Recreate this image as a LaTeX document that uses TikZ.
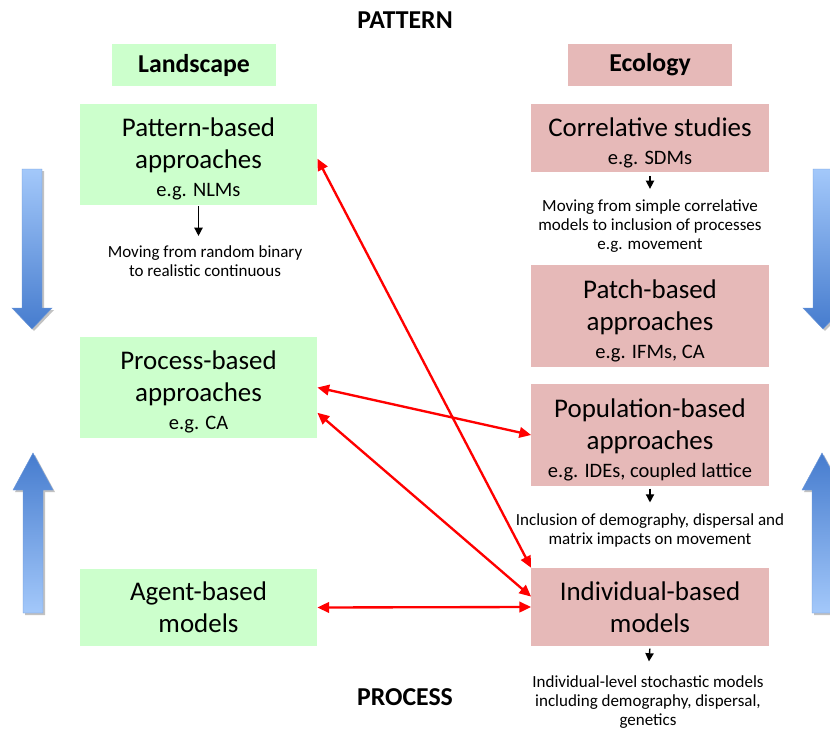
\documentclass[tikz,border=0pt]{standalone}
\usepackage{fontspec}
\setmainfont{Carlito}
\usetikzlibrary{arrows.meta}
\definecolor{landgreen}{RGB}{204,255,204}
\definecolor{ecopink}{RGB}{230,185,184}
\definecolor{blocklight}{RGB}{163,200,250}
\definecolor{blockdark}{RGB}{70,124,206}
\tikzset{
  headbox/.style={minimum width=4.92cm, minimum height=1.26cm, inner sep=0pt,
    font=\fontsize{22}{26}\selectfont\bfseries},
  titletext/.style={font=\fontsize{22}{26}\selectfont\bfseries},
  approachbox/.style={minimum width=7.12cm, inner sep=0pt, align=center},
  bigtext/.style={font=\fontsize{23}{27}\selectfont},
  notetext/.style={align=center, inner sep=0pt, font=\fontsize{14.5}{16.2}\selectfont},
  steparrow/.style={-{Triangle[length=7pt,width=7pt]}, line width=1.2pt},
  redlink/.style={red, line width=2pt,
    {Triangle[length=10pt,width=9pt]}-{Triangle[length=10pt,width=9pt]}}
}
\newcommand{\egsize}{\fontsize{17.5}{21}\selectfont}
\newcommand{\topgap}{\rule{0pt}{24pt}}
\begin{document}
\begin{tikzpicture}[x=0.03cm, y=-0.03cm]
\useasboundingbox (0,0) rectangle (830,729);

% block arrows at the sides
\begin{scope}
\clip (0,0) rectangle (830,729);
\foreach \cx/\ya/\yb/\yc in {32/169/308/329, 823/169/308/329}
{
  \fill[black!40, opacity=0.6, shift={(2,2)}] ({\cx-10},\ya) -- ({\cx+10},\ya) -- ({\cx+10},\yb) -- ({\cx+20},\yb)
      -- (\cx,\yc) -- ({\cx-20},\yb) -- ({\cx-10},\yb) -- cycle;
  \shade[top color=blocklight, bottom color=blockdark, draw=blockdark!80, line width=0.4pt]
      ({\cx-10},\ya) -- ({\cx+10},\ya) -- ({\cx+10},\yb) -- ({\cx+20},\yb)
      -- (\cx,\yc) -- ({\cx-20},\yb) -- ({\cx-10},\yb) -- cycle;
}
\foreach \cx/\ya/\yb/\yc in {33/613/490/453, 822/613/490/453}
{
  \fill[black!40, opacity=0.6, shift={(2,2)}] ({\cx-10},\ya) -- ({\cx+10},\ya) -- ({\cx+10},\yb) -- ({\cx+20},\yb)
      -- (\cx,\yc) -- ({\cx-20},\yb) -- ({\cx-10},\yb) -- cycle;
  \shade[top color=blockdark, bottom color=blocklight, draw=blockdark!80, line width=0.4pt]
      ({\cx-10},\ya) -- ({\cx+10},\ya) -- ({\cx+10},\yb) -- ({\cx+20},\yb)
      -- (\cx,\yc) -- ({\cx-20},\yb) -- ({\cx-10},\yb) -- cycle;
}
\end{scope}

% titles
\node[titletext] (pattern) at (405,20) {PATTERN};
\node[titletext] (process) at (405,697) {PROCESS};
\node[headbox, fill=landgreen] (landscape) at (194,65) {Landscape};
\node[headbox, fill=ecopink] (ecology) at (650,65) {Ecology};

% landscape column
\node[approachbox, fill=landgreen, minimum height=3.03cm, bigtext] (patternbased) at (198.5,154.5)
  {\topgap Pattern-based\\approaches\\[-3pt]{\egsize e.g. NLMs}};
\node[approachbox, fill=landgreen, minimum height=3.03cm, bigtext] (processbased) at (198.5,387.5)
  {\topgap Process-based\\approaches\\[-3pt]{\egsize e.g. CA}};
\node[approachbox, fill=landgreen, minimum height=2.31cm, bigtext] (agentbased) at (198.5,607.5)
  {Agent-based\\models};
\node[notetext] (landnote) at (205,261) {Moving from random binary\\to realistic continuous};

% ecology column
\node[approachbox, fill=ecopink, minimum height=2.04cm, bigtext] (correlative) at (650,138)
  {\topgap Correlative studies\\[-3pt]{\egsize e.g. SDMs}};
\node[approachbox, fill=ecopink, minimum height=3.06cm, bigtext] (patchbased) at (650,316)
  {\topgap Patch-based\\approaches\\[-3pt]{\egsize e.g. IFMs, CA}};
\node[approachbox, fill=ecopink, minimum height=3.06cm, bigtext] (populationbased) at (650,435)
  {\topgap Population-based\\approaches\\[-3pt]{\egsize e.g. IDEs, coupled lattice}};
\node[approachbox, fill=ecopink, minimum height=2.34cm, bigtext] (individualbased) at (650,607)
  {Individual-based\\models};
\node[notetext] (corrnote) at (650,226)
  {Moving from simple correlative\\models to inclusion of processes\\e.g. movement};
\node[notetext] (popnote) at (650,530)
  {Inclusion of demography, dispersal and\\matrix impacts on movement};
\node[notetext] (indnote) at (648,702)
  {Individual-level stochastic models\\including demography, dispersal,\\genetics};

% small arrows
\draw[steparrow, shorten <=1pt, shorten >=8pt] (patternbased.south) -- (patternbased.south |- landnote.north);
\draw[steparrow, shorten <=3pt, shorten >=9pt] (correlative.south) -- (corrnote.north);
\draw[steparrow, shorten <=2pt, shorten >=9pt] (populationbased.south) -- (popnote.north);
\draw[steparrow, shorten <=2pt, shorten >=12pt] (individualbased.south) -- (indnote.north);

% links between the columns
\draw[redlink] (patternbased.-2) -- (individualbased.north west);
\draw[redlink] (processbased.east) -- (populationbased.west);
\draw[redlink] (processbased.-12) -- (individualbased.175);
\draw[redlink] (agentbased.east) -- (individualbased.west);
\end{tikzpicture}
\end{document}
